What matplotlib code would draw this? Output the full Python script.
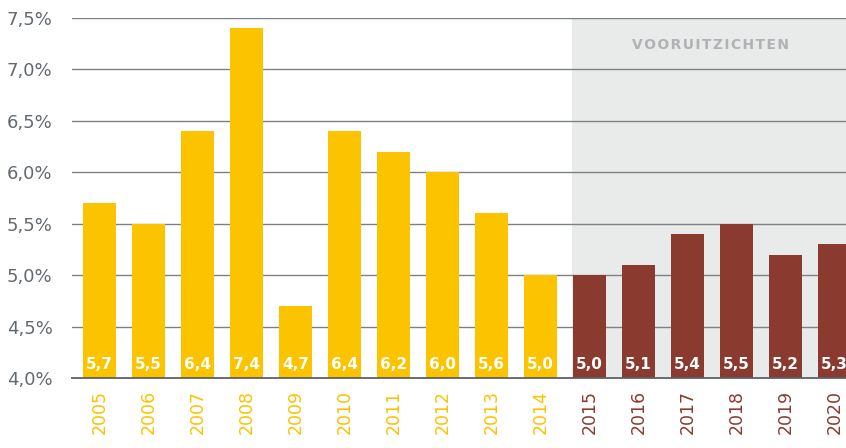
import matplotlib.pyplot as plt
import numpy as np

years = ['2005', '2006', '2007', '2008', '2009', '2010', '2011', '2012',
         '2013', '2014', '2015', '2016', '2017', '2018', '2019', '2020']
values = [5.7, 5.5, 6.4, 7.4, 4.7, 6.4, 6.2, 6.0, 5.6, 5.0,
          5.0, 5.1, 5.4, 5.5, 5.2, 5.3]
forecast = [False] * 10 + [True] * 6
yticks = [4.0, 4.5, 5.0, 5.5, 6.0, 6.5, 7.0, 7.5]

yellow = '#FBC300'
brown = '#8B3A2F'
grey_line = '#7A8287'
label_grey = '#62696F'

fig = plt.figure(figsize=(8.46, 4.48), dpi=100)
ax = fig.add_axes([72 / 846, 1 - 378 / 448, 1 - 72 / 846, 360 / 448])

x = np.arange(len(years))
colors = [brown if f else yellow for f in forecast]
ax.axvspan(9.64, 16, color='#E9EAEA', zorder=0, lw=0)
for t in yticks[1:]:
    ax.axhline(t, color=grey_line, lw=1.0, zorder=1)
ax.bar(x, np.array(values) - 4.0, bottom=4.0, width=0.67, color=colors, zorder=2)

for xi, v in zip(x, values):
    ax.text(xi, 4.13, f'{v:.1f}'.replace('.', ','), ha='center', va='center',
            color='white', fontsize=11, fontweight='bold', zorder=3)

for xi, yr, c in zip(x, years, colors):
    ax.text(xi, 3.88, yr, rotation=90, ha='center', va='top', color=c,
            fontsize=12.5, clip_on=False)

ax.text(12.46, 7.24, '\u200a'.join('VOORUITZICHTEN'), ha='center', va='center',
        color='#B0B3B5', fontsize=10, fontweight='bold')

ax.set_xlim(-0.56, 15.23)
ax.set_ylim(4.0, 7.5)
ax.set_yticks(yticks)
ax.set_yticklabels([f'{t:.1f}%'.replace('.', ',') for t in yticks],
                   color=label_grey, fontsize=13)
ax.set_xticks([])
ax.tick_params(axis='y', length=0, pad=14)
for s in ['top', 'right', 'left']:
    ax.spines[s].set_visible(False)
ax.spines['bottom'].set_color('#5A6168')
ax.spines['bottom'].set_linewidth(1.3)
ax.spines['bottom'].set_zorder(4)

fig.savefig('out.png', dpi=100)
